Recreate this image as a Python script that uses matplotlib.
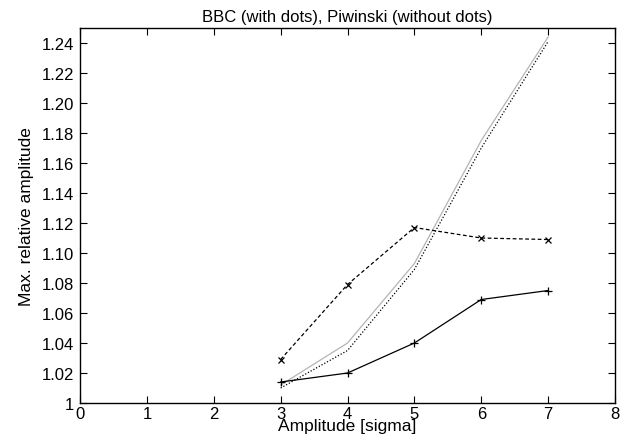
import matplotlib
matplotlib.use("Agg")
import matplotlib.pyplot as plt

plt.rcParams['font.family'] = ['Liberation Sans', 'DejaVu Sans']

x = [3, 4, 5, 6, 7]
bbc_plus = [1.014, 1.020, 1.040, 1.069, 1.075]
bbc_cross = [1.029, 1.079, 1.117, 1.110, 1.109]
piw_gray = [1.012, 1.040, 1.093, 1.175, 1.244]
piw_dot = [1.010, 1.035, 1.089, 1.170, 1.241]

yticks = [1, 1.02, 1.04, 1.06, 1.08, 1.10, 1.12, 1.14, 1.16, 1.18, 1.20, 1.22, 1.24]
ylabels = ['1'] + ['%.2f' % v for v in yticks[1:]]

fig = plt.figure(figsize=(6.32, 4.39), dpi=100)
ax = fig.add_axes([0.1266, 0.0797, 0.8465, 0.8542])

ax.plot(x, piw_gray, color='#b4b4b4', lw=0.9)
ax.plot(x, piw_dot, color='black', lw=0.9, linestyle=(0, (1, 1.5)))
ax.plot(x, bbc_plus, color='black', lw=0.9, marker='+', ms=6, mew=0.9)
ax.plot(x, bbc_cross, color='black', lw=0.9, linestyle=(0, (3, 2)), marker='x', ms=5, mew=0.9)

ax.set_xlim(0, 8)
ax.set_ylim(1, 1.25)
ax.set_xticks(range(9))
ax.set_yticks(yticks)
ax.set_yticklabels(ylabels)
ax.tick_params(direction='in', top=True, right=True, labelsize=12, length=5)
ax.tick_params(axis='y', pad=4)
ax.tick_params(axis='x', pad=2)
for s in ax.spines.values():
    s.set_linewidth(1.0)

ax.set_title('BBC (with dots), Piwinski (without dots)', fontsize=12, pad=5)
ax.set_xlabel('Amplitude [sigma]', fontsize=12.5)
# label sits tight under the tick labels, as in the original
ax.xaxis.set_label_coords(0.5, -0.04, transform=ax.transAxes)
ax.xaxis.label.set_va('top')
ax.set_ylabel('Max. relative amplitude', fontsize=12.5, labelpad=6)

fig.savefig('out.png', dpi=100)
